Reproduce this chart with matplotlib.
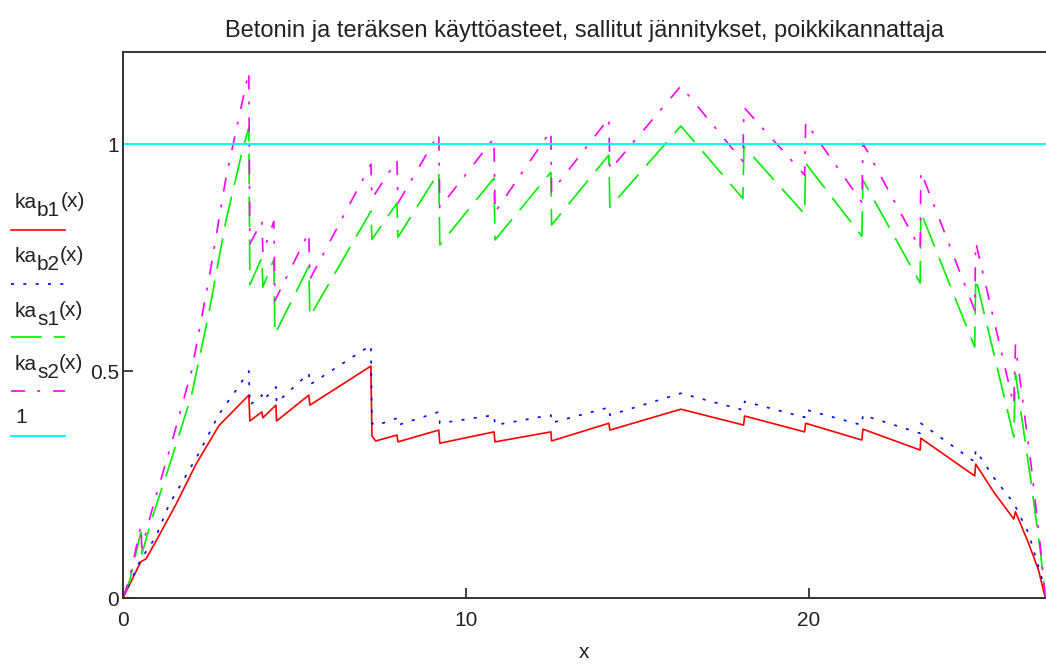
import matplotlib
matplotlib.use("Agg")
import matplotlib.pyplot as plt
from matplotlib.lines import Line2D

plt.rcParams['font.family'] = ['Liberation Sans', 'DejaVu Sans']

# ---------------- data ----------------
x_b1 = [0, 0.52, 0.67, 0.96, 1.55, 2.13, 2.8, 3.67, 3.70, 4.05, 4.08, 4.46, 4.48,
        5.42, 5.45, 7.23, 7.26, 7.37, 7.99, 8.02, 9.21, 9.24, 10.82, 10.85, 12.48,
        12.5, 14.17, 14.2, 16.27, 18.1, 18.13, 19.88, 19.91, 21.55, 21.58, 23.25,
        23.27, 24.84, 24.87, 25.4, 25.98, 26.03, 26.41, 26.7, 26.9]
ka_b1 = [0, 0.08, 0.086, 0.125, 0.207, 0.295, 0.38, 0.447, 0.39, 0.41, 0.397, 0.425,
         0.39, 0.447, 0.425, 0.511, 0.357, 0.346, 0.359, 0.344, 0.37, 0.341, 0.366,
         0.344, 0.366, 0.346, 0.385, 0.37, 0.416, 0.381, 0.401, 0.366, 0.385, 0.348,
         0.372, 0.326, 0.352, 0.269, 0.295, 0.233, 0.174, 0.19, 0.121, 0.062, 0.0]

x_b2 = [0, 0.52, 0.96, 1.34, 2.2, 2.8, 3.3, 3.67, 3.70, 4.05, 4.08, 4.46, 4.48, 5.42,
        5.45, 7.23, 7.26, 7.37, 7.99, 8.02, 9.21, 9.24, 10.82, 10.85, 12.48, 12.5,
        14.17, 14.2, 16.27, 18.1, 18.13, 19.88, 19.91, 21.55, 21.58, 23.25, 23.27,
        24.84, 24.87, 25.4, 25.98, 26.41, 26.79, 26.9]
ka_b2 = [0, 0.085, 0.135, 0.205, 0.317, 0.405, 0.458, 0.5, 0.425, 0.447, 0.435, 0.465,
         0.43, 0.495, 0.47, 0.557, 0.385, 0.38, 0.396, 0.381, 0.41, 0.385, 0.403,
         0.381, 0.403, 0.386, 0.42, 0.403, 0.451, 0.414, 0.433, 0.398, 0.415, 0.381,
         0.403, 0.363, 0.385, 0.3, 0.326, 0.265, 0.209, 0.143, 0.046, 0.0]

x_s = [0, 0.2, 0.52, 0.55, 0.85, 1.43, 2.0, 2.5, 3.0, 3.47, 3.67, 3.70, 4.05, 4.08,
       4.40, 4.43, 5.42, 5.45, 7.23, 7.26, 7.99, 8.02, 9.21, 9.24, 10.82, 10.85,
       12.48, 12.5, 14.17, 14.2, 16.27, 18.08, 18.11, 19.88, 19.91, 21.55, 21.58,
       23.25, 23.27, 24.84, 24.87, 25.98, 26.03, 26.5, 26.76, 26.9]
ka_s1 = [0, 0.04, 0.145, 0.097, 0.176, 0.31, 0.447, 0.626, 0.83, 0.982, 1.037, 0.69,
         0.75, 0.685, 0.746, 0.581, 0.731, 0.62, 0.852, 0.79, 0.87, 0.795, 0.938,
         0.778, 0.925, 0.789, 0.938, 0.822, 0.976, 0.861, 1.04, 0.88, 0.995, 0.846,
         0.958, 0.797, 0.921, 0.694, 0.85, 0.553, 0.705, 0.355, 0.493, 0.247, 0.1, 0]
ka_s2 = [0, 0.045, 0.16, 0.11, 0.195, 0.345, 0.5, 0.7, 0.925, 1.09, 1.16, 0.78, 0.83,
         0.76, 0.83, 0.655, 0.806, 0.702, 0.956, 0.88, 0.965, 0.87, 1.024, 0.86,
         1.013, 0.85, 1.03, 0.895, 1.057, 0.943, 1.128, 0.962, 1.081, 0.932, 1.048,
         0.872, 1.002, 0.769, 0.94, 0.634, 0.784, 0.425, 0.557, 0.284, 0.11, 0]

limit_value = 1.0

# legend labels: (main, subscript, suffix)
labels = [('ka', 'b1', '(x)'), ('ka', 'b2', '(x)'), ('ka', 's1', '(x)'),
          ('ka', 's2', '(x)'), ('1', '', '')]
title = 'Betonin ja teräksen käyttöasteet, sallitut jännitykset, poikkikannattaja'
x_ticks = [0, 10, 20]
y_ticks = [0, 0.5, 1]
y_tick_labels = ['0', '0.5', '1']

# ---------------- figure ----------------
W, H = 1046, 664
fig = plt.figure(figsize=(W / 100, H / 100), dpi=100)
ax = fig.add_axes([123 / W, 1 - 598 / H, 1 - 123 / W, (598 - 52) / H])

colors = ['#ff0000', '#0000ff', '#00ee00', '#ff00ff', '#00ffff']
styles = [dict(linestyle='-'),
          dict(dashes=(1.8, 5.6)),
          dict(dashes=(18.5, 7.2)),
          dict(dashes=(8.5, 7.2, 1.8, 7.8)),
          dict(linestyle='-')]

lw = 1.2
ax.plot(x_b1, ka_b1, color=colors[0], lw=lw, **styles[0])
ax.plot(x_b2, ka_b2, color=colors[1], lw=lw, **styles[1])
ax.plot(x_s, ka_s1, color=colors[2], lw=lw, **styles[2])
ax.plot(x_s, ka_s2, color=colors[3], lw=lw, **styles[3])
ax.axhline(limit_value, color=colors[4], lw=1.4)

ax.set_xlim(0, 26.92)
ax.set_ylim(0, 1.203)
ax.set_xticks(x_ticks)
ax.set_xticklabels([str(t) for t in x_ticks])
ax.set_yticks(y_ticks)
ax.set_yticklabels(y_tick_labels)
ax.tick_params(axis='both', direction='in', length=7, width=1.2, colors='#222222',
               labelsize=15)
ax.tick_params(axis='x', pad=9)
ax.tick_params(axis='y', pad=3)
for s in ['left', 'bottom', 'top']:
    ax.spines[s].set_linewidth(1.4)
    ax.spines[s].set_color('#333333')
ax.spines['right'].set_visible(False)

ax.set_xlabel('x', fontsize=15, labelpad=10, color='#222222')
fig.text((123 + 1046) / 2 / W, 1 - 31 / H, title, ha='center', va='center',
         fontsize=17, color='#222222')

# legend (label above sample line, Mathcad style)
renderer = fig.canvas.get_renderer()
text_base = [208, 262, 317, 370, 423]
line_y = [230, 284, 337, 391, 436]
fs = 15
for i in range(5):
    main, sub, suf = labels[i]
    xpos = 15
    t = fig.text(xpos / W, 1 - text_base[i] / H, main, ha='left', va='baseline',
                 fontsize=fs, color='#222222')
    xpos += t.get_window_extent(renderer).width
    if sub:
        t = fig.text(xpos / W, 1 - (text_base[i] + 8) / H, sub, ha='left',
                     va='baseline', fontsize=fs, color='#222222')
        xpos += t.get_window_extent(renderer).width
    if suf:
        fig.text(xpos / W, 1 - (text_base[i] - 1) / H, suf, ha='left',
                 va='baseline', fontsize=fs, color='#222222')
    fig.add_artist(Line2D([11 / W, 65 / W], [1 - line_y[i] / H] * 2, color=colors[i],
                          lw=lw if i < 4 else 1.4, transform=fig.transFigure,
                          **styles[i]))

fig.savefig('out.png', dpi=100)
